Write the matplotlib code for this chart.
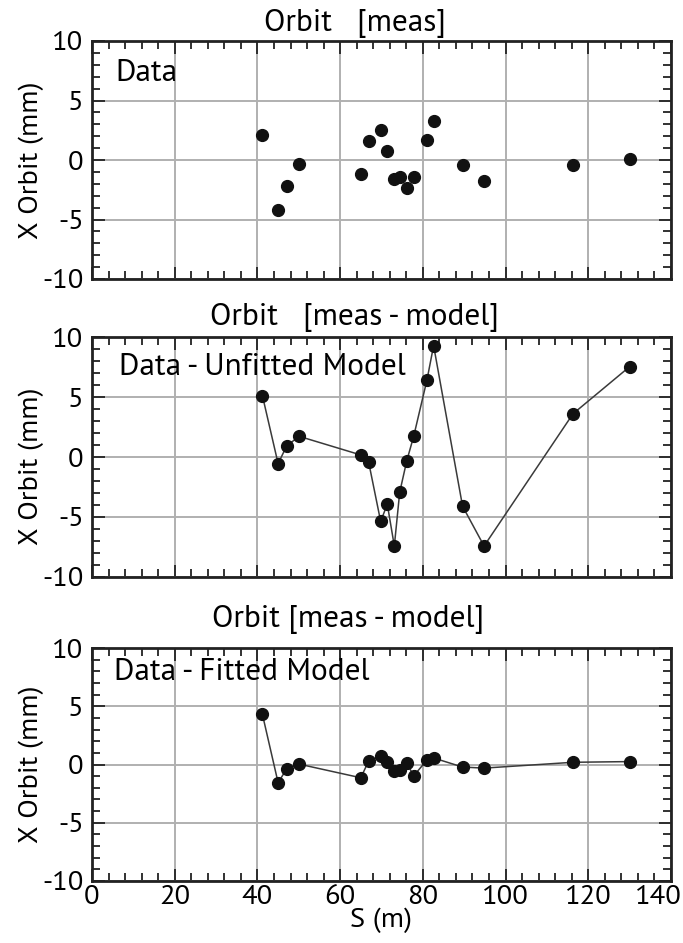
import numpy as np
import matplotlib
matplotlib.use("Agg")
import matplotlib.pyplot as plt
from matplotlib.ticker import MultipleLocator

plt.rcParams["font.family"] = ["PT Sans", "DejaVu Sans"]

# BPM positions along the line (m)
s_pos = [41.2, 45.0, 47.1, 50.1, 65.0, 66.9, 69.8, 71.4, 73.1, 74.4, 76.1, 77.8,
         81.0, 82.6, 89.6, 94.8, 116.3, 130.0]
x_meas = [2.06, -4.19, -2.19, -0.31, -1.19, 1.58, 2.53, 0.75, -1.61, -1.42, -2.39, -1.39,
          1.64, 3.25, -0.44, -1.75, -0.39, 0.06]
x_unfit = [5.12, -0.55, 0.94, 1.72, 0.17, -0.44, -5.37, -3.93, -7.42, -2.94, -0.33, 1.75,
           6.43, 9.28, -4.10, -7.42, 3.60, 7.53]
x_fit = [4.31, -1.56, -0.36, 0.03, -1.14, 0.31, 0.69, 0.25, -0.56, -0.47, 0.11, -0.97,
         0.39, 0.56, -0.22, -0.31, 0.19, 0.25]
x_ticks = [0, 20, 40, 60, 80, 100, 120, 140]
y_ticks = [-10, -5, 0, 5, 10]

# data, title, inset label, joined?, (bottom px, height px), title pad, title x, label xy, ylabel y
panels = [
    (x_meas, "Orbit   [meas]", "Data", False, (279, 238), 0.012, 0.454, (0.041, 0.925), 0.50),
    (x_unfit, "Orbit   [meas - model]", "Data - Unfitted Model", True, (577, 240), 0.020, 0.453,
     (0.047, 0.935), 0.46),
    (x_fit, "Orbit [meas - model]", "Data - Fitted Model", True, (881, 233), 0.060, 0.442,
     (0.038, 0.955), 0.50),
]

W, H = 683, 943
FS = 20.5      # ticks and axis labels
FS_TXT = 22.5  # titles and inset labels
fig = plt.figure(figsize=(W / 100, H / 100), dpi=100)

for i, (y, title, label, joined, (bot, hgt), tpad, tx, lxy, yly) in enumerate(panels):
    ax = fig.add_axes([92 / W, (H - bot) / H, 579 / W, hgt / H])
    if joined:
        ax.plot(s_pos, y, "-", color="#3a3a3a", lw=1.1, zorder=3)
    ax.plot(s_pos, y, "o", color="#111111", ms=8.5, zorder=4)
    ax.set_xlim(0, 140); ax.set_ylim(-10, 10)
    ax.xaxis.set_minor_locator(MultipleLocator(4))
    ax.yaxis.set_minor_locator(MultipleLocator(1))
    ax.set_xticks(x_ticks)
    ax.set_yticks(y_ticks)
    ax.set_yticklabels([str(v) for v in y_ticks])
    ax.tick_params(which="both", direction="in", top=True, right=True, width=1.3,
                   color="#222222", labelsize=FS)
    ax.tick_params(axis="y", pad=6)
    ax.tick_params(axis="x", pad=3)
    ax.tick_params(which="major", length=9)
    ax.tick_params(which="minor", length=6)
    ax.grid(True, which="major", color="#b0b0b0", lw=1.4, zorder=0)
    ax.set_axisbelow(True)
    for sp in ax.spines.values():
        sp.set_linewidth(2.0); sp.set_color("#222222")
    if i < 2:
        ax.tick_params(labelbottom=False)
    else:
        # last label is pulled in so it stays inside the picture
        ax.set_xticklabels([str(v) for v in x_ticks[:-1]] + [""])
        ax.annotate(str(x_ticks[-1]), xy=(x_ticks[-1], 0), xycoords=("data", "axes fraction"),
                    xytext=(-13, -4), textcoords="offset pixels", ha="center", va="top",
                    fontsize=FS)
        ax.set_xlabel("S (m)", fontsize=FS, labelpad=-1)
    ax.set_ylabel("X Orbit (mm)", fontsize=FS)
    ax.yaxis.set_label_coords(-0.083, yly)
    ax.text(tx, 1.0 + tpad, title, transform=ax.transAxes, ha="center", va="bottom",
            fontsize=FS_TXT)
    ax.text(lxy[0], lxy[1], label, transform=ax.transAxes, ha="left", va="top", fontsize=FS_TXT)

fig.savefig("out.png", dpi=100)
